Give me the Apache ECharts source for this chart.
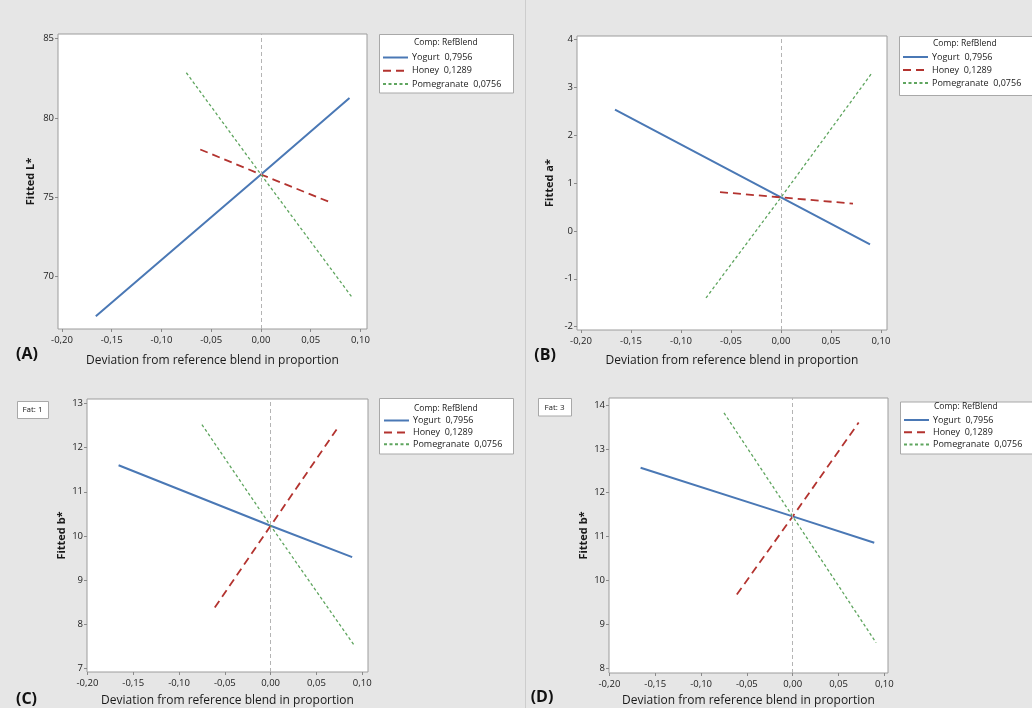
<!DOCTYPE html>
<html><head><meta charset="utf-8">
<script src="https://cdn.jsdelivr.net/npm/echarts@6/dist/echarts.min.js"></script>
<style>html,body{margin:0;padding:0;background:#e6e6e6}#c{width:1032px;height:708px}</style>
</head><body><div id="c"></div>
<script>
// ---- data ----
const components = ['Yogurt', 'Honey', 'Pomegranate'];
const refBlend = ['0,7956', '0,1289', '0,0756'];
const xYogurt = [-0.166, 0, 0.089];
const xHoney = [-0.061, 0, 0.072];
const xPomegranate = [-0.075, 0, 0.091];
// (A) Fitted L*
const lYogurt = [67.45, 76.42, 81.25];
const lHoney = [78.0, 76.42, 74.6];
const lPomegranate = [82.85, 76.42, 68.7];
// (B) Fitted a*
const aYogurt = [2.53, 0.70, -0.28];
const aHoney = [0.81, 0.70, 0.57];
const aPomegranate = [-1.40, 0.70, 3.30];
// (C) Fitted b*, Fat 1
const b1Yogurt = [11.6, 10.23, 9.52];
const b1Honey = [8.38, 10.23, 12.41];
const b1Pomegranate = [12.52, 10.23, 7.53];
// (D) Fitted b*, Fat 3
const b3Yogurt = [12.57, 11.46, 10.86];
const b3Honey = [9.68, 11.46, 13.6];
const b3Pomegranate = [13.82, 11.46, 8.58];
const panelLabels = ['(A)', '(B)', '(C)', '(D)'];
const yTitles = ['Fitted L*', 'Fitted a*', 'Fitted b*', 'Fitted b*'];
const fatLabels = ['', '', 'Fat: 1', 'Fat: 3'];
const xTitle = 'Deviation from reference blend in proportion';
const legendTitle = 'Comp: RefBlend';

// ---- layout ----
const FONT = 'Open Sans';
const names = components.map((c, i) => c + '  ' + refBlend[i]);
const xs = [xYogurt, xHoney, xPomegranate];
const panelValues = [
  [lYogurt, lHoney, lPomegranate],
  [aYogurt, aHoney, aPomegranate],
  [b1Yogurt, b1Honey, b1Pomegranate],
  [b3Yogurt, b3Honey, b3Pomegranate]
];
const panels = [
  {grid: {left: 58, top: 34, width: 309, height: 295}, x: [-0.204, 0.1066], y: [66.65, 85.3], yi: 5, xGap: 26, yGap: 22,
   leg: {left: 382, top: 52.5, gap: 3.3}, box: [379, 34, 134, 58.5], lt: [414, 42.5]},
  {grid: {left: 577, top: 36, width: 310, height: 294}, x: [-0.204, 0.106], y: [-2.07, 4.07], yi: 1, xGap: 25, yGap: 22,
   leg: {left: 902, top: 52, gap: 3}, box: [899, 36, 140, 59], lt: [933, 43.3]},
  {grid: {left: 87, top: 399, width: 281, height: 273}, x: [-0.2005, 0.1063], y: [6.92, 13.1], yi: 1, xGap: 23, yGap: 20,
   leg: {left: 383, top: 415.5, gap: 1.9}, box: [379, 398, 134, 55.5], lt: [414, 408.3]},
  {grid: {left: 609, top: 398, width: 279, height: 276}, x: [-0.2005, 0.104], y: [7.89, 14.16], yi: 1, xGap: 22, yGap: 20,
   leg: {left: 903, top: 415, gap: 2.2}, box: [900, 401.5, 140, 52], lt: [934, 406.7]}
];
const fatBoxes = [null, null, [17, 401, 31, 17], [538, 398, 33, 17.5]];
const labelPos = [[27, 354], [545, 355], [26.5, 699], [542, 697.5]];

const lineStyles = [
  {color: '#4a78b5', width: 2, type: 'solid'},
  {color: '#b3332f', width: 1.8, type: [8, 5]},
  {color: '#5fa55f', width: 1.3, type: [3, 2.5]}
];

function isMult(v, step) { return Math.abs(v / step - Math.round(v / step)) < 1e-6; }

const grids = [], xAxes = [], yAxes = [], series = [], legends = [], graphics = [];
graphics.push({type: 'line', shape: {x1: 525.5, y1: 0, x2: 525.5, y2: 708}, style: {stroke: '#cdcdcd', lineWidth: 1}, z: -1});

panels.forEach((p, i) => {
  grids.push(Object.assign({show: true, backgroundColor: '#ffffff', borderColor: '#9c9c9c', borderWidth: 1}, p.grid));
  xAxes.push({
    type: 'value', gridIndex: i, min: p.x[0], max: p.x[1], minInterval: 0.05, maxInterval: 0.05,
    axisLine: {show: false, onZero: false}, splitLine: {show: false},
    axisTick: {show: true, inside: false, length: 3, lineStyle: {color: '#8a8a8a'}},
    axisLabel: {show: true, margin: 6, fontSize: 9.5, fontFamily: FONT, color: '#222', showMinLabel: false, showMaxLabel: false,
      formatter: v => isMult(v, 0.05) ? v.toFixed(2).replace('.', ',') : ''},
    name: xTitle, nameLocation: 'middle', nameGap: p.xGap,
    nameTextStyle: {fontSize: 12, fontFamily: FONT, color: '#1a1a1a'}
  });
  yAxes.push({
    type: 'value', gridIndex: i, min: p.y[0], max: p.y[1], minInterval: p.yi, maxInterval: p.yi,
    axisLine: {show: false, onZero: false}, splitLine: {show: false},
    axisTick: {show: true, inside: false, length: 3, lineStyle: {color: '#8a8a8a'}},
    axisLabel: {show: true, margin: 4, fontSize: 9.5, fontFamily: FONT, color: '#222', showMinLabel: false, showMaxLabel: false,
      formatter: v => isMult(v, p.yi) ? String(Math.round(v)) : ''},
    name: yTitles[i], nameLocation: 'middle', nameGap: p.yGap, nameRotate: 90,
    nameTextStyle: {fontSize: 11, fontWeight: 'bold', fontFamily: FONT, color: '#1a1a1a'}
  });
  // reference line at x = 0
  series.push({
    type: 'line', xAxisIndex: i, yAxisIndex: i, data: [], z: 1, silent: true,
    markLine: {silent: true, symbol: ['none', 'none'], label: {show: false}, animation: false,
      lineStyle: {color: '#b4b4b4', type: [4, 3], width: 1}, data: [{xAxis: 0}]}
  });
  panelValues[i].forEach((vals, k) => {
    series.push({
      name: names[k], type: 'line', xAxisIndex: i, yAxisIndex: i, z: 3,
      symbol: 'none', animation: false, lineStyle: lineStyles[k], itemStyle: {color: lineStyles[k].color},
      data: vals.map((v, j) => [xs[k][j], v])
    });
  });
  legends.push({
    data: names, orient: 'vertical', left: p.leg.left, top: p.leg.top, padding: 0,
    itemWidth: 25, itemHeight: 10, itemGap: p.leg.gap, selectedMode: false,
    itemStyle: {opacity: 0, color: 'rgba(0,0,0,0)', borderWidth: 0},
    textStyle: {fontSize: 9, fontFamily: FONT, color: '#1a1a1a', lineHeight: 10, padding: [0, 0, 0, -1]}
  });
  graphics.push({type: 'rect', shape: {x: p.box[0] + 0.5, y: p.box[1] + 0.5, width: p.box[2], height: p.box[3]},
    style: {fill: '#ffffff', stroke: '#a8a8a8', lineWidth: 1}, z: 0});
  graphics.push({type: 'text', x: p.lt[0], y: p.lt[1],
    style: {text: legendTitle, fontSize: 8.5, fontFamily: FONT, fill: '#1a1a1a', verticalAlign: 'middle'}, z: 5});
  if (fatBoxes[i]) {
    const b = fatBoxes[i];
    graphics.push({type: 'rect', shape: {x: b[0] + 0.5, y: b[1] + 0.5, width: b[2], height: b[3]},
      style: {fill: '#ffffff', stroke: '#a8a8a8', lineWidth: 1}, z: 0});
    graphics.push({type: 'text', x: b[0] + b[2] / 2, y: b[1] + b[3] / 2 + 0.5,
      style: {text: fatLabels[i], fontSize: 8, fontFamily: FONT, fill: '#1a1a1a', align: 'center', verticalAlign: 'middle'}, z: 5});
  }
  graphics.push({type: 'text', x: labelPos[i][0], y: labelPos[i][1],
    style: {text: panelLabels[i], fontSize: 16, fontWeight: 'bold', fontFamily: FONT, fill: '#111', align: 'center', verticalAlign: 'middle'}, z: 5});
});

const chart = echarts.init(document.getElementById('c'), null, {renderer: 'canvas'});
chart.setOption({
  backgroundColor: '#e6e6e6',
  animation: false,
  grid: grids, xAxis: xAxes, yAxis: yAxes, series: series, legend: legends,
  graphic: {elements: graphics}
});
</script></body></html>
